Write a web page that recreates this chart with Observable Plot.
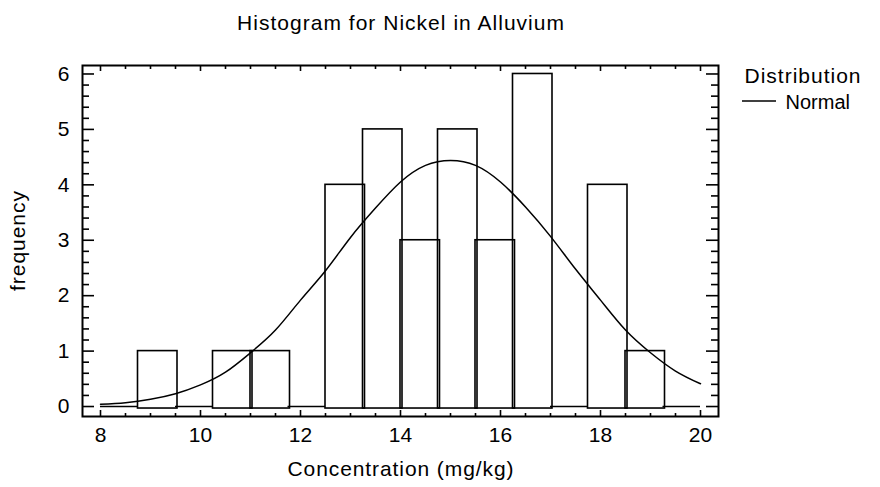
<!DOCTYPE html>
<html>
<head>
<meta charset="utf-8">
<script src="https://cdn.jsdelivr.net/npm/d3@7"></script>
<script src="https://cdn.jsdelivr.net/npm/@observablehq/plot@0.6"></script>
<style>
  html, body { margin: 0; padding: 0; background: #fff; }
  #chart { width: 880px; height: 487px; }
</style>
</head>
<body>
<div id="chart"></div>
<script>
// ---- data ----
const binEdges = [8, 8.75, 9.5, 10.25, 11, 11.75, 12.5, 13.25, 14, 14.75, 15.5, 16.25, 17, 17.75, 18.5, 19.25, 20];
const counts   = [0, 1, 0, 1, 1, 0, 4, 5, 3, 5, 3, 6, 0, 4, 1, 0];

// fitted Normal curve
const curveX = [8, 8.5, 9, 9.5, 10, 10.5, 11, 11.5, 12, 12.5, 13, 13.5, 14, 14.5, 15, 15.5, 16, 16.5, 17, 17.5, 18, 18.5, 19, 19.5, 20];
const curveY = [0.04, 0.07, 0.13, 0.23, 0.39, 0.62, 0.97, 1.38, 1.92, 2.45, 3.05, 3.58, 4.05, 4.35, 4.44, 4.35, 4.05, 3.6, 3.07, 2.48, 1.92, 1.38, 0.97, 0.64, 0.41];

const xTicks = [8, 10, 12, 14, 16, 18, 20];
const xMinor = d3.range(8, 20.001, 0.5).filter(v => !xTicks.includes(v));
const yTicks = [0, 1, 2, 3, 4, 5, 6];
const yMinor = d3.range(0, 6.001, 0.2).map(v => +v.toFixed(1)).filter(v => !yTicks.includes(v));

const title = "Histogram for Nickel in Alluvium";
const xLabel = "Concentration (mg/kg)";
const yLabel = "frequency";
const legendTitle = "Distribution";
const legendItem = "Normal";

// ---- build tables ----
const bins = counts.map((c, i) => ({x1: binEdges[i], x2: binEdges[i + 1], count: c}));
const filled = bins.filter(b => b.count > 0);
const empty = bins.filter(b => b.count === 0);
const curve = curveX.map((x, i) => ({x, y: curveY[i]}));

// ---- layout ----
const W = 880, H = 487;
const mL = 82, mR = 162, mT = 65, mB = 71;
const fW = W - mL - mR, fH = H - mT - mB;
const font = "'Liberation Sans', Arial, Helvetica, sans-serif";
const fs = 21;

const chart = Plot.plot({
  width: W, height: H,
  marginLeft: mL, marginRight: mR, marginTop: mT, marginBottom: mB,
  style: {fontFamily: font, fontSize: fs + "px", color: "#000", background: "#fff"},
  x: {domain: [7.64, 20.36]},
  y: {domain: [-0.18, 6.153]},
  marks: [
    Plot.rect(filled, {x1: "x1", x2: "x2", y1: 0, y2: "count", fill: "none", stroke: "#000", strokeWidth: 1.6, insetRight: -2, insetBottom: -2}),
    Plot.ruleY(empty, {x1: "x1", x2: "x2", y: 0, stroke: "#000", strokeWidth: 1.6}),
    Plot.line(curve, {x: "x", y: "y", curve: "natural", stroke: "#000", strokeWidth: 1.5}),
    // ticks pointing inward
    Plot.ruleX(xTicks, {insetTop: fH - 6, stroke: "#000", strokeWidth: 1.6}),
    Plot.ruleX(xMinor, {insetTop: fH - 3, stroke: "#000", strokeWidth: 1.6}),
    Plot.ruleX(xTicks, {insetBottom: fH - 6, stroke: "#000", strokeWidth: 1.6}),
    Plot.ruleX(xMinor, {insetBottom: fH - 4, stroke: "#000", strokeWidth: 1.6}),
    Plot.ruleY(yTicks, {insetRight: fW - 12, stroke: "#000", strokeWidth: 1.6}),
    Plot.ruleY(yMinor, {insetRight: fW - 7, stroke: "#000", strokeWidth: 1.6}),
    Plot.ruleY(yTicks, {insetLeft: fW - 12, stroke: "#000", strokeWidth: 1.6}),
    Plot.ruleY(yMinor, {insetLeft: fW - 7, stroke: "#000", strokeWidth: 1.6}),
    Plot.frame({stroke: "#000", strokeWidth: 2}),
    Plot.axisX(xTicks, {tickSize: 0, tickPadding: 11, fontSize: fs, label: null, tickFormat: d => String(d)}),
    Plot.axisY(yTicks, {tickSize: 0, tickPadding: 13, fontSize: fs, label: null, tickFormat: d => String(d)}),
    Plot.text([xLabel], {frameAnchor: "bottom", dy: 59, fontSize: fs, fill: "#000"}),
    Plot.text([yLabel], {frameAnchor: "left", dx: -64, rotate: -90, textAnchor: "middle", lineAnchor: "middle", fontSize: fs, fill: "#000"}),
    Plot.text([title], {frameAnchor: "top", dy: -50, fontSize: fs, fill: "#000"}),
    Plot.text([legendTitle], {frameAnchor: "top-right", dx: 26, dy: 3, textAnchor: "start", fontSize: fs, fill: "#000"}),
    Plot.text([legendItem], {frameAnchor: "top-right", dx: 67, dy: 29, textAnchor: "start", fontSize: 20, fill: "#000"})
  ]
});

const svg = d3.select(chart);
// widen strings like the reference's hinted raster font
const widths = new Map([[title, 327], [xLabel, 226], [yLabel, 100], [legendTitle, 116]]);
svg.selectAll("text").each(function () {
  const w = widths.get(this.textContent);
  if (w) d3.select(this).attr("textLength", w).attr("lengthAdjust", "spacing");
});

// legend line sample
svg.append("line")
  .attr("x1", W - mR + 24).attr("x2", W - mR + 58)
  .attr("y1", mT + 36).attr("y2", mT + 36)
  .attr("stroke", "#000").attr("stroke-width", 1.5);

document.getElementById("chart").appendChild(chart);
</script>
</body>
</html>
